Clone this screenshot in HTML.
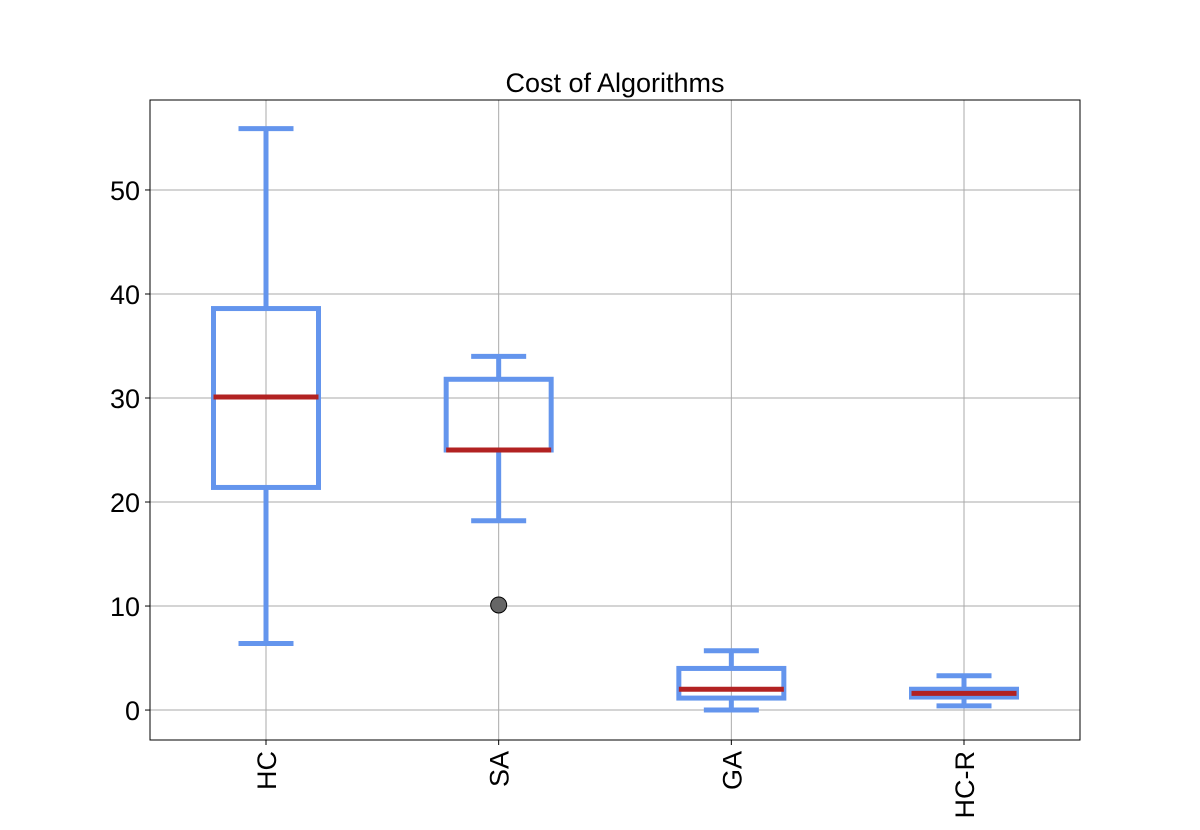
<!DOCTYPE html>
<html><head><meta charset="utf-8"><style>body{margin:0;background:#fff}svg{display:block}text{font-family:"Liberation Sans",sans-serif;fill:#000}</style></head>
<body>
<svg id="chart" width="1200" height="830" xmlns="http://www.w3.org/2000/svg">
<text x="615" y="92" font-size="27" text-anchor="middle">Cost of Algorithms</text>
<g id="grid"></g><g id="marks"></g><g id="axes"></g>
<rect x="150" y="100" width="930" height="640" fill="none" stroke="#000" stroke-width="1"/>
</svg>
<script>
const categories = ["HC","SA","GA","HC-R"];
const whiskerLow = [6.4, 18.2, 0.0, 0.4];
const q1 = [21.4, 25.0, 1.15, 1.25];
const medians = [30.1, 25.0, 2.0, 1.6];
const q3 = [38.6, 31.8, 4.0, 2.0];
const whiskerHigh = [55.9, 34.0, 5.7, 3.3];
const outliers = [[], [10.1], [], []];
const yTicks = [0,10,20,30,40,50];

const NS="http://www.w3.org/2000/svg";
const yMin=-2.88, yMax=58.65, plotTop=100, plotBottom=740;
const yScale=v=>plotBottom-(v-yMin)/(yMax-yMin)*(plotBottom-plotTop);
const xScale=i=>266+i*232.67;
function mk(tag,attrs,parent){const e=document.createElementNS(NS,tag);for(const k in attrs)e.setAttribute(k,attrs[k]);parent.appendChild(e);return e;}
const gridG=document.getElementById('grid'),marksG=document.getElementById('marks'),axesG=document.getElementById('axes');
yTicks.forEach(t=>{
  const l=mk('line',{x1:150,x2:1080,y1:yScale(t),y2:yScale(t),stroke:'#aaa','stroke-width':1},gridG);
  
  
  const tk=mk('line',{x1:145,x2:150,y1:yScale(t),y2:yScale(t),stroke:'#000'},axesG);
  
  
  const tx=mk('text',{x:140,y:yScale(t)+10,'font-size':27,'text-anchor':'end'},axesG);
  tx.textContent=t;
  
  
});
categories.forEach((c,i)=>{
  const cx=xScale(i);
  const g=mk('line',{x1:cx,x2:cx,y1:100,y2:740,stroke:'#aaa','stroke-width':1},gridG);
  
  
  const tk=mk('line',{x1:cx,x2:cx,y1:740,y2:745,stroke:'#000'},axesG);
  
  
  const tx=mk('text',{x:0,y:0,'font-size':27,'text-anchor':'end',transform:`translate(${cx+10},751) rotate(-90)`},axesG);
  tx.textContent=c;
  
  
  const grp=mk('g',{},marksG);
  
  
  const s={stroke:'#6495ed','stroke-width':5,fill:'none'};
  const hw=52.5, cw=27.5;
  mk('line',{x1:cx,x2:cx,y1:yScale(whiskerLow[i]),y2:yScale(q1[i]),...s},grp);
  mk('line',{x1:cx,x2:cx,y1:yScale(q3[i]),y2:yScale(whiskerHigh[i]),...s},grp);
  mk('line',{x1:cx-cw,x2:cx+cw,y1:yScale(whiskerLow[i]),y2:yScale(whiskerLow[i]),...s},grp);
  mk('line',{x1:cx-cw,x2:cx+cw,y1:yScale(whiskerHigh[i]),y2:yScale(whiskerHigh[i]),...s},grp);
  mk('rect',{x:cx-hw,y:yScale(q3[i]),width:2*hw,height:yScale(q1[i])-yScale(q3[i]),...s},grp);
  const m=mk('line',{x1:cx-hw,x2:cx+hw,y1:yScale(medians[i]),y2:yScale(medians[i]),stroke:'#b22222','stroke-width':5},grp);
  
  
  outliers[i].forEach(o=>{
    const p=mk('circle',{cx:cx,cy:yScale(o),r:8,fill:'#666',stroke:'#000','stroke-width':1},grp);
    
    
  });
});
</script>
</body></html>
